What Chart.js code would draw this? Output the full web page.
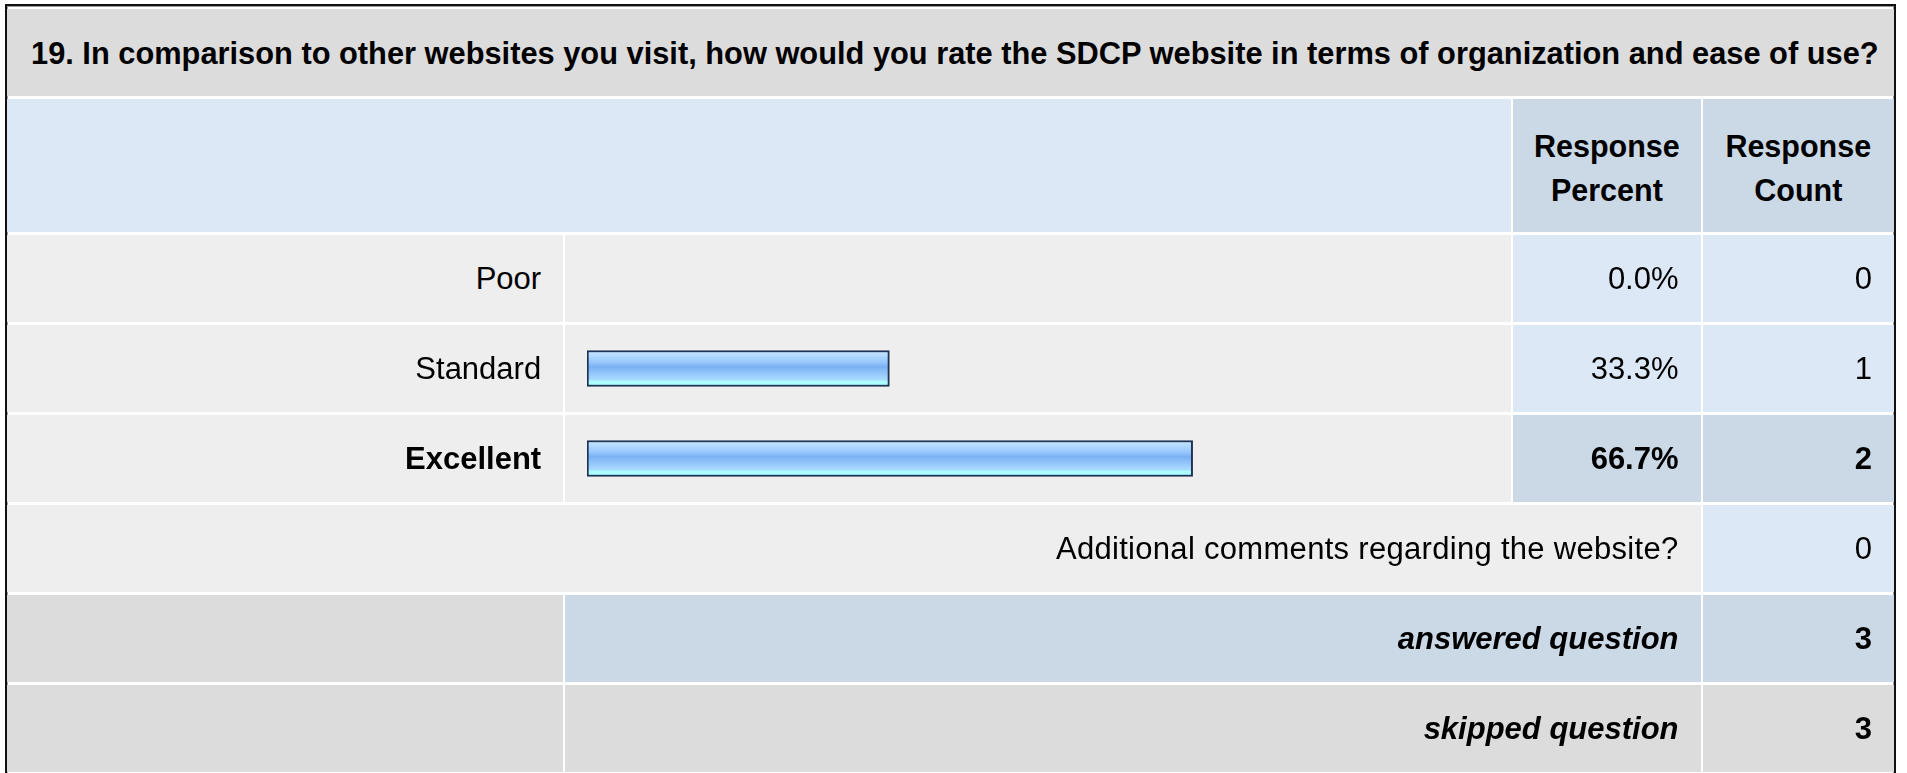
<!DOCTYPE html>
<html lang="en">
<head>
  <meta charset="UTF-8" />
  <title>Survey question 19</title>
  <script src="https://cdn.jsdelivr.net/npm/chart.js"></script>
  <style>
    body { margin: 0; background: #fff; font-family: "Liberation Sans", Arial, sans-serif; color: #000; }
    .box { position: absolute; left: 5px; top: 4px; width: 1887px; border: 2px solid #111; box-shadow: inset 0 0 0 1px #999; }
    table { table-layout: fixed; border-collapse: separate; border-spacing: 2px 3px; width: 1891px; margin: 0 -2px; font-size: 31px; }
    td { padding: 0 22px 0 0; text-align: right; vertical-align: middle; background: #eee; white-space: nowrap; }
    tr { height: 87px; }
    .title { background: #dcdcdc; text-align: left; font-weight: bold; font-size: 30.8px; padding: 3px 0 0 24px; }
    .head td { background: #dde8f6; }
    .head td.h { background: #cbd8e6; font-weight: bold; font-size: 30.5px; text-align: center; line-height: 44px; padding: 4px 0 0 0; }
    .lb { background: #dde8f6; }
    .db { background: #cbd8e6; }
    .gr { background: #dcdcdc; }
    .bold { font-weight: bold; }
    .bi { font-weight: bold; font-style: italic; }
    .wide { letter-spacing: 0.3px; }
    td.bar { padding: 0; }
    td.bar canvas { display: block; }
  </style>
</head>
<body>
  <div class="box">
    <table>
      <colgroup>
        <col style="width:555px" /><col style="width:944px" /><col style="width:187px" /><col style="width:191px" />
      </colgroup>
      <tbody id="rows"></tbody>
    </table>
  </div>

  <script>
    const question = "19. In comparison to other websites you visit, how would you rate the SDCP website in terms of organization and ease of use?";
    const choices = ["Poor", "Standard", "Excellent"];
    const percents = [0.0, 33.3, 66.7];
    const counts = [0, 1, 2];
    const commentsLabel = "Additional comments regarding the website?";
    const commentsCount = 0;
    const answered = 3;
    const skipped = 3;

    const maxCount = Math.max(...counts);
    let html = `<tr><td class="title" colspan="4">${question}</td></tr>
      <tr class="head" style="height:133px"><td colspan="2"></td>
        <td class="h">Response<br>Percent</td><td class="h">Response<br>Count</td></tr>`;
    choices.forEach((c, i) => {
      const best = counts[i] === maxCount;
      const cls = best ? 'db bold' : 'lb';
      html += `<tr><td class="${best ? 'bold' : ''}">${c}</td>
        <td class="bar"><canvas id="bar${i}" width="944" height="87"></canvas></td>
        <td class="${cls}">${percents[i].toFixed(1)}%</td><td class="${cls}">${counts[i]}</td></tr>`;
    });
    html += `<tr><td class="wide" colspan="3">${commentsLabel}</td><td class="lb">${commentsCount}</td></tr>
      <tr><td class="gr"></td><td class="db bi" colspan="2">answered question</td><td class="db bold">${answered}</td></tr>
      <tr><td class="gr"></td><td class="gr bi" colspan="2">skipped question</td><td class="gr bold">${skipped}</td></tr>`;
    document.getElementById('rows').innerHTML = html;

    // striped blue fill like the survey's bar image
    function barFill(context) {
      const chart = context.chart;
      const area = chart.chartArea;
      if (!area) return '#8cc0fa';
      const mid = (area.top + area.bottom) / 2;
      const g = chart.ctx.createLinearGradient(0, mid - 18, 0, mid + 18);
      g.addColorStop(0.00, '#cde8ff');
      g.addColorStop(0.18, '#acd6ff');
      g.addColorStop(0.32, '#98c8fd');
      g.addColorStop(0.45, '#7cb1f2');
      g.addColorStop(0.58, '#8cc0f8');
      g.addColorStop(0.74, '#a2d2ff');
      g.addColorStop(0.82, '#a8dcff');
      g.addColorStop(0.85, '#acfcff');
      g.addColorStop(1.00, '#acffff');
      return g;
    }

    choices.forEach((c, i) => {
      new Chart(document.getElementById('bar' + i), {
        type: 'bar',
        data: {
          labels: [c],
          datasets: [{
            data: [percents[i]],
            backgroundColor: barFill,
            borderColor: '#1c3353',
            borderWidth: 2,
            borderSkipped: false,
            barThickness: 36
          }]
        },
        options: {
          indexAxis: 'y',
          responsive: false,
          animation: false,
          layout: { padding: { left: 22, right: 14, top: 0, bottom: 0 } },
          plugins: { legend: { display: false }, tooltip: { enabled: false } },
          scales: {
            x: { min: 0, max: 100, display: false },
            y: { display: false }
          }
        }
      });
    });
  </script>
</body>
</html>
